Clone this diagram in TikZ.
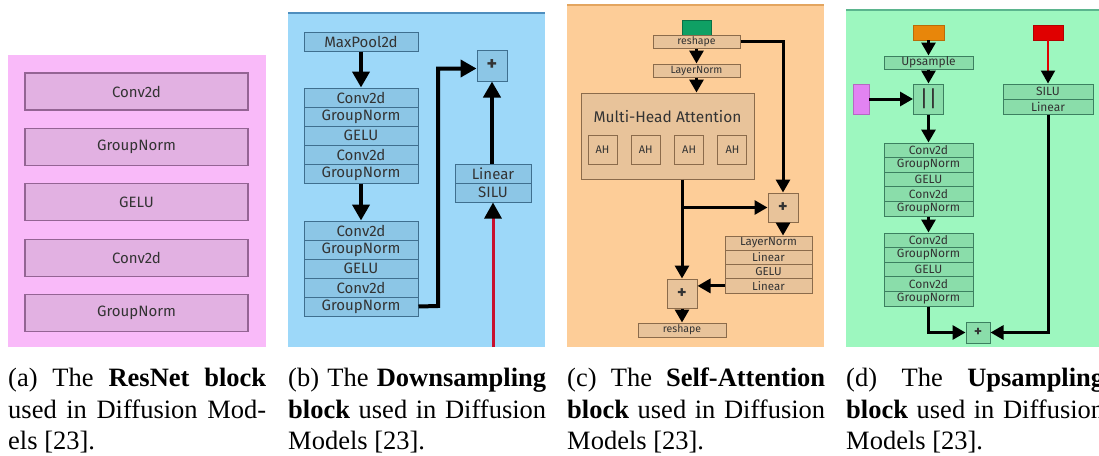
\documentclass[tikz,border=0pt]{standalone}
\usepackage{fontspec}
\setmainfont{Liberation Serif}
\newfontfamily\diafont{Fira Sans}
\usetikzlibrary{arrows.meta}

\definecolor{txt}{HTML}{333333}
\definecolor{resbg}{HTML}{F9BAF9}
\definecolor{resfill}{HTML}{E2B1E2}
\definecolor{resline}{HTML}{946494}
\definecolor{downbg}{HTML}{9DD8F9}
\definecolor{downfill}{HTML}{8CC6E6}
\definecolor{downline}{HTML}{3F6F8F}
\definecolor{downtop}{HTML}{4E8EBE}
\definecolor{attbg}{HTML}{FDCD98}
\definecolor{attfill}{HTML}{E8C39A}
\definecolor{attline}{HTML}{8B6B4B}
\definecolor{atttop}{HTML}{E3A55F}
\definecolor{upbg}{HTML}{9DF7BF}
\definecolor{upfill}{HTML}{8ADDAA}
\definecolor{upline}{HTML}{3C8060}
\definecolor{uptop}{HTML}{5BB58E}
\definecolor{ingreen}{HTML}{0FA064}
\definecolor{inorange}{HTML}{E8860A}
\definecolor{inred}{HTML}{E00000}
\definecolor{timered}{HTML}{C8102E}
\definecolor{inpink}{HTML}{E283F2}

\tikzset{
  resbox/.style={draw=resline, fill=resfill, line width=1.2pt, minimum width=223pt, minimum height=37pt, inner sep=0pt, text=txt, font=\diafont\fontsize{15}{15}\selectfont},
  downbox/.style={draw=downline, fill=downfill, line width=1pt, minimum height=19pt, inner sep=0pt, text=txt, font=\diafont\fontsize{15}{15}\selectfont},
  attbox/.style={draw=attline, fill=attfill, line width=1pt, inner sep=0pt, text=txt, font=\diafont\fontsize{11.5}{11.5}\selectfont},
  upbox/.style={draw=upline, fill=upfill, line width=1pt, inner sep=0pt, text=txt, font=\diafont\fontsize{12}{12}\selectfont},
  bigarr/.style={line width=4pt, -{Triangle[length=16pt,width=17pt]}},
  arr/.style={line width=3pt, -{Triangle[length=13pt,width=14pt]}},
  capnode/.style={anchor=north west, inner sep=0pt, text width=258pt, align=justify, font=\fontsize{26.5}{31.5}\selectfont}
}

\begin{document}
\begin{tikzpicture}[x=1pt,y=-1pt]
\useasboundingbox (0,0) rectangle (1099,455);

% (a) ResNet
\fill[resbg] (8,55) rectangle (266,347);
\foreach \lbl [count=\i] in {Conv2d,GroupNorm,GELU,Conv2d,GroupNorm}
{
	\node[resbox] (a\i) at (136.5,36.1+55.4*\i) {\lbl};
}

% (b) Downsampling
\fill[downbg] (288,13) rectangle (545,347);
\draw[downtop, line width=1.5pt] (288,13) -- (545,13);
\node[downbox, minimum width=114pt] (mp) at (361,41.5) {MaxPool2d};
\foreach \lbl [count=\i] in {Conv2d,GroupNorm,GELU,Conv2d,GroupNorm}
{
	\node[downbox, minimum width=114pt] (b1\i) at (361,78.5+19*\i) {\lbl};
	\node[downbox, minimum width=114pt] (b2\i) at (361,211.5+19*\i) {\lbl};
}
\node[downbox, minimum width=30pt, minimum height=31pt, font=\diafont\bfseries\fontsize{20}{20}\selectfont] (bplus) at (492,65.5) {+};
\node[downbox, minimum width=76pt] (blin) at (493,173.5) {Linear};
\node[downbox, minimum width=76pt] (bsilu) at (493,192.5) {SILU};
\coordinate (btime) at (493,347);
\draw[bigarr] (mp) -- (b11);
\draw[bigarr] (b15) -- (b21);
\draw[bigarr] (b25.east) -- (438,306) |- ([yshift=-3pt]bplus.west);
\draw[bigarr] (blin.north -| bplus.south) -- (bplus.south);
\draw[line width=3pt, timered, -{Triangle[length=16pt,width=17pt,color=black]}] (btime) -- (bsilu.south);

% (c) Self-Attention
\fill[attbg] (567,5) rectangle (824,347);
\draw[atttop, line width=1.5pt] (567,5) -- (824,5);
\filldraw[fill=ingreen, draw=ingreen!70!black] (682,20) rectangle (711,35);
\node[attbox, minimum width=87pt, minimum height=13pt, font=\diafont\fontsize{10.5}{10.5}\selectfont] (rs1) at (696.5,41.5) {reshape};
\node[attbox, minimum width=87pt, minimum height=13pt, font=\diafont\fontsize{10.5}{10.5}\selectfont] (ln1) at (696.5,70.5) {LayerNorm};
\node[attbox, minimum width=173pt, minimum height=86pt] (mha) at (667.5,136) {};
\node[text=txt, font=\diafont\fontsize{15.5}{15.5}\selectfont] (mhat) at (667.5,117) {Multi-Head Attention};
\foreach \i in {1,...,4}
{
	\node[attbox, minimum width=29pt, minimum height=29pt, font=\diafont\fontsize{11}{11}\selectfont] (ah\i) at (559.2+43.3*\i,149.5) {AH};
}
\node[attbox, minimum width=30pt, minimum height=29pt, font=\diafont\bfseries\fontsize{18}{18}\selectfont] (cplus1) at (783,207.5) {+};
\node[attbox, minimum width=30pt, minimum height=29pt, font=\diafont\bfseries\fontsize{18}{18}\selectfont] (cplus2) at (682,293.5) {+};
\foreach \lbl [count=\i] in {LayerNorm,Linear,GELU,Linear}
{
	\node[attbox, minimum width=87pt, minimum height=14.25pt] (c\i) at (768.5,228.9+14.25*\i) {\lbl};
}
\node[attbox, minimum width=88pt, minimum height=14pt, font=\diafont\fontsize{10.5}{10.5}\selectfont] (rs2) at (682,330) {reshape};
\coordinate (cbr) at (cplus2.north |- cplus1.west);
\draw[arr] (rs1) -- (ln1);
\draw[arr] (ln1.south) -- (ln1.south |- mha.north);
\draw[arr] (rs1.east) -| (cplus1.north);
\draw[arr] (cplus2.north |- mha.south) -- (cplus2.north);
\draw[arr] (cbr) -- (cplus1.west);
\draw[arr] (cplus1.south) -- (cplus1.south |- c1.north);
\draw[arr] (c4.west) -- (c4.west -| cplus2.east);
\draw[arr] (cplus2) -- (rs2);

% (d) Upsampling
\fill[upbg] (846,10) rectangle (1099,347);
\draw[uptop, line width=1.5pt] (846,10) -- (1099,10);
\filldraw[fill=inorange, draw=inorange!80!black] (913,25) rectangle (944,40);
\filldraw[fill=inred, draw=inred!80!black] (1033,25) rectangle (1063,40);
\filldraw[fill=inpink, draw=inpink!80!black] (853,84) rectangle (869,114);
\coordinate (uin) at (928.5,40);
\coordinate (tin) at (1048,40);
\coordinate (skip) at (869,99);
\node[upbox, minimum width=89pt, minimum height=13pt] (ups) at (928.5,62.5) {Upsample};
\node[upbox, minimum width=30pt, minimum height=30pt, font=\diafont\fontsize{22}{22}\selectfont] (cat) at (928.5,99) {||};
\foreach \lbl [count=\i] in {Conv2d,GroupNorm,GELU,Conv2d,GroupNorm}
{
	\node[upbox, minimum width=89pt, minimum height=14.6pt] (d1\i) at (928.5,135.7+14.6*\i) {\lbl};
	\node[upbox, minimum width=89pt, minimum height=14.6pt] (d2\i) at (928.5,225.7+14.6*\i) {\lbl};
}
\node[upbox, minimum width=90pt, minimum height=15pt] (dsilu) at (1048,91.5) {SILU};
\node[upbox, minimum width=90pt, minimum height=15pt] (dlin) at (1048,106.5) {Linear};
\node[upbox, minimum width=24pt, minimum height=21pt, font=\diafont\bfseries\fontsize{15}{15}\selectfont] (dplus) at (978,332.5) {+};
\draw[arr] (uin) -- (ups);
\draw[arr] (ups) -- (cat);
\draw[arr] (skip) -- (cat.west);
\draw[arr] (cat) -- (d11);
\draw[arr] (d15) -- (d21);
\draw[arr] (d25.south) |- (dplus.west);
\draw[arr] (dlin.south) |- (dplus.east);
\draw[line width=2pt, inred, -{Triangle[length=13pt,width=14pt,color=black]}] (tin) -- (dsilu.north);

% captions
\node[capnode] (capa) at (8,368) {(a) The \textbf{ResNet block}\linebreak used in Diffusion Mod-\linebreak els [23].};
\node[capnode] (capb) at (288,368) {(b) The \textbf{Downsampling}\linebreak \textbf{block} used in Diffusion\linebreak Models [23].};
\node[capnode] (capc) at (567,368) {(c) The \textbf{Self-Attention}\linebreak \textbf{block} used in Diffusion\linebreak Models [23].};
\node[capnode] (capd) at (846,368) {(d) The \textbf{Upsampling}\linebreak \textbf{block} used in Diffusion\linebreak Models [23].};
\end{tikzpicture}
\end{document}
